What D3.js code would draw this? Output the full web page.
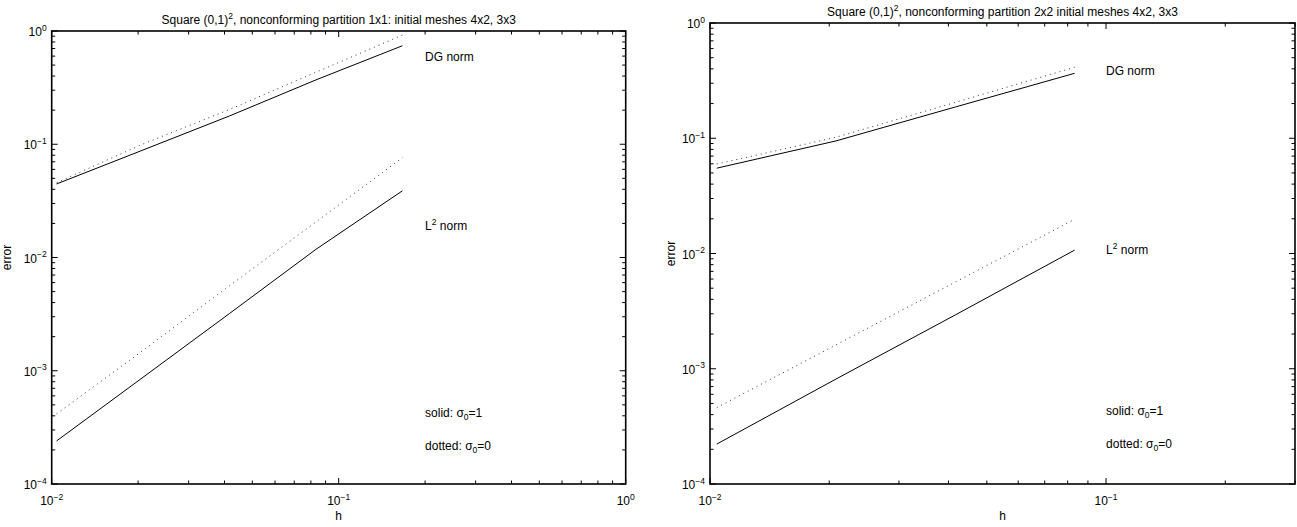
<!DOCTYPE html>
<html>
<head>
<meta charset="utf-8">
<script src="https://cdn.jsdelivr.net/npm/d3@7"></script>
<style>
  html, body { margin: 0; padding: 0; background: #fff; }
  svg { display: block; }
  text { font-family: "Liberation Sans", Arial, Helvetica, sans-serif; fill: #000; }
</style>
</head>
<body>
<svg id="chart" width="1297" height="527"></svg>
<script>
// ---- mesh sizes h ----
const hLeft  = [0.0104, 0.0208, 0.0417, 0.0833, 0.1667];
const hRight = [0.0104, 0.0208, 0.0417, 0.0833];

// ---- partition 1x1 errors ----
const dgSolidLeft  = [0.0446, 0.0889, 0.178, 0.370, 0.741];
const dgDottedLeft = [0.0458, 0.1005, 0.203, 0.432, 0.920];
const l2SolidLeft  = [2.40e-4, 8.75e-4, 3.21e-3, 0.0118, 0.0388];
const l2DottedLeft = [4.16e-4, 1.51e-3, 5.65e-3, 0.0206, 0.0762];

// ---- partition 2x2 errors ----
const dgSolidRight  = [0.055, 0.0948, 0.187, 0.366];
const dgDottedRight = [0.0598, 0.102, 0.205, 0.413];
const l2SolidRight  = [2.22e-4, 8.14e-4, 2.94e-3, 0.0107];
const l2DottedRight = [4.60e-4, 1.61e-3, 5.67e-3, 0.0198];

// ---- axis ranges and tick decades ----
const yDomain = [1e-4, 1];
const xDomainLeft = [0.01, 1];
const xDomainRight = [0.01, 0.3];
const yDecades = [-4, -3, -2, -1, 0];
const xDecadesLeft = [-2, -1, 0];
const xDecadesRight = [-2, -1];

// ---- texts ----
const titleLeft  = ["Square (0,1)", "2", ", nonconforming partition 1x1: initial meshes 4x2, 3x3"];
const titleRight = ["Square (0,1)", "2", ", nonconforming partition 2x2 initial meshes 4x2, 3x3"];
const xLabel = "h";
const yLabel = "error";

const svg = d3.select("#chart");
svg.append("rect").attr("width", 1297).attr("height", 527).attr("fill", "#fff");

function supLabel(sel, base, sup, supSize) {
  sel.append("tspan").text(base);
  sel.append("tspan").attr("font-size", supSize).attr("dy", -5.5).text(sup);
}

function drawPanel(cfg) {
  const g = svg.append("g");
  const x = d3.scaleLog().domain(cfg.xDomain).range([cfg.x0, cfg.x1]);
  const y = d3.scaleLog().domain(yDomain).range([cfg.y1, cfg.y0]);
  const majorLen = 6, minorLen = 3.5;

  // minor + major ticks on y (both sides, pointing inward)
  const yTicks = [];
  yDecades.forEach(k => {
    yTicks.push({v: Math.pow(10, k), major: true});
    if (k < 0) for (let j = 2; j <= 9; j++) yTicks.push({v: j * Math.pow(10, k), major: false});
  });
  yTicks.forEach(t => {
    const yy = y(t.v), L = t.major ? majorLen : minorLen;
    g.append("line").attr("x1", cfg.x0).attr("x2", cfg.x0 + L).attr("y1", yy).attr("y2", yy)
      .attr("stroke", "#000").attr("stroke-width", 1);
    g.append("line").attr("x1", cfg.x1).attr("x2", cfg.x1 - L).attr("y1", yy).attr("y2", yy)
      .attr("stroke", "#000").attr("stroke-width", 1);
  });

  // x ticks (top and bottom, inward)
  const xTicks = [];
  const xmax = cfg.xDomain[1];
  for (let k = -2; k <= 0; k++) {
    for (let j = 1; j <= 9; j++) {
      const v = j * Math.pow(10, k);
      if (v > xmax * 1.0001) continue;
      xTicks.push({v: v, major: j === 1});
    }
  }
  xTicks.forEach(t => {
    const xx = x(t.v), L = t.major ? majorLen : minorLen;
    g.append("line").attr("x1", xx).attr("x2", xx).attr("y1", cfg.y1).attr("y2", cfg.y1 - L)
      .attr("stroke", "#000").attr("stroke-width", 1);
    g.append("line").attr("x1", xx).attr("x2", xx).attr("y1", cfg.y0).attr("y2", cfg.y0 + L)
      .attr("stroke", "#000").attr("stroke-width", 1);
  });

  // axes box
  g.append("rect").attr("x", cfg.x0).attr("y", cfg.y0)
    .attr("width", cfg.x1 - cfg.x0).attr("height", cfg.y1 - cfg.y0)
    .attr("fill", "none").attr("stroke", "#000").attr("stroke-width", 1.6);

  // y tick labels
  yDecades.forEach(k => {
    const t = g.append("text").attr("x", cfg.x0 - 5).attr("y", y(Math.pow(10, k)) + 5)
      .attr("text-anchor", "end").attr("font-size", 12);
    supLabel(t, "10", k === 0 ? "0" : "\u2212" + (-k), 8.5);
  });
  // x tick labels
  cfg.xDecades.forEach(k => {
    const t = g.append("text").attr("x", x(Math.pow(10, k))).attr("y", cfg.y1 + 21)
      .attr("text-anchor", "middle").attr("font-size", 12);
    supLabel(t, "10", k === 0 ? "0" : "\u2212" + (-k), 8.5);
  });

  // axis labels
  g.append("text").attr("x", (cfg.x0 + cfg.x1) / 2).attr("y", 520)
    .attr("text-anchor", "middle").attr("font-size", 12).text(xLabel);
  g.append("text")
    .attr("transform", `translate(${cfg.yLabelX},${(cfg.y0 + cfg.y1) / 2}) rotate(-90)`)
    .attr("text-anchor", "middle").attr("font-size", 12).text(yLabel);

  // title
  const tt = g.append("text").attr("x", (cfg.x0 + cfg.x1) / 2).attr("y", cfg.y0 - 7)
    .attr("text-anchor", "middle").attr("font-size", 12);
  tt.append("tspan").text(cfg.title[0]);
  tt.append("tspan").attr("font-size", 8.5).attr("dy", -5).text(cfg.title[1]);
  tt.append("tspan").attr("dy", 5).text(cfg.title[2]);

  // data curves
  const line = d3.line().x(d => x(d[0])).y(d => y(d[1]));
  cfg.series.forEach(s => {
    g.append("path").datum(d3.zip(cfg.h, s.values))
      .attr("d", line).attr("fill", "none")
      .attr("stroke", s.dotted ? "#333" : "#000")
      .attr("stroke-width", 1)
      .attr("stroke-dasharray", s.dotted ? "1,4" : null);
  });

  // annotations (anchored in data coordinates)
  const a = cfg.annot;
  const lx = x(a.x);
  g.append("text").attr("x", lx).attr("y", y(a.dg)).attr("font-size", 12).text("DG norm");
  const l2 = g.append("text").attr("x", lx).attr("y", y(a.l2)).attr("font-size", 12);
  l2.append("tspan").text("L");
  l2.append("tspan").attr("font-size", 8.5).attr("dy", -5).text("2");
  l2.append("tspan").attr("dy", 5).text(" norm");
  [[a.solid, "solid: ", "1"], [a.dotted, "dotted: ", "0"]].forEach(([v, lab, val]) => {
    const t = g.append("text").attr("x", lx).attr("y", y(v)).attr("font-size", 12);
    t.append("tspan").text(lab + "\u03C3");
    t.append("tspan").attr("font-size", 8.5).attr("dy", 3).text("0");
    t.append("tspan").attr("dy", -3).text("=" + val);
  });
}

drawPanel({
  x0: 51.7, x1: 625.7, y0: 31, y1: 484, yLabelX: 11,
  xDomain: xDomainLeft, xDecades: xDecadesLeft, h: hLeft, title: titleLeft,
  series: [
    {values: dgSolidLeft, dotted: false}, {values: dgDottedLeft, dotted: true},
    {values: l2SolidLeft, dotted: false}, {values: l2DottedLeft, dotted: true}
  ],
  annot: {x: 0.2, dg: 0.54, l2: 0.0175, solid: 3.9e-4, dotted: 2.0e-4}
});

drawPanel({
  x0: 710, x1: 1295, y0: 23, y1: 484, yLabelX: 675,
  xDomain: xDomainRight, xDecades: xDecadesRight, h: hRight, title: titleRight,
  series: [
    {values: dgSolidRight, dotted: false}, {values: dgDottedRight, dotted: true},
    {values: l2SolidRight, dotted: false}, {values: l2DottedRight, dotted: true}
  ],
  annot: {x: 0.1, dg: 0.354, l2: 0.0099, solid: 3.97e-4, dotted: 2.05e-4}
});
</script>
</body>
</html>
